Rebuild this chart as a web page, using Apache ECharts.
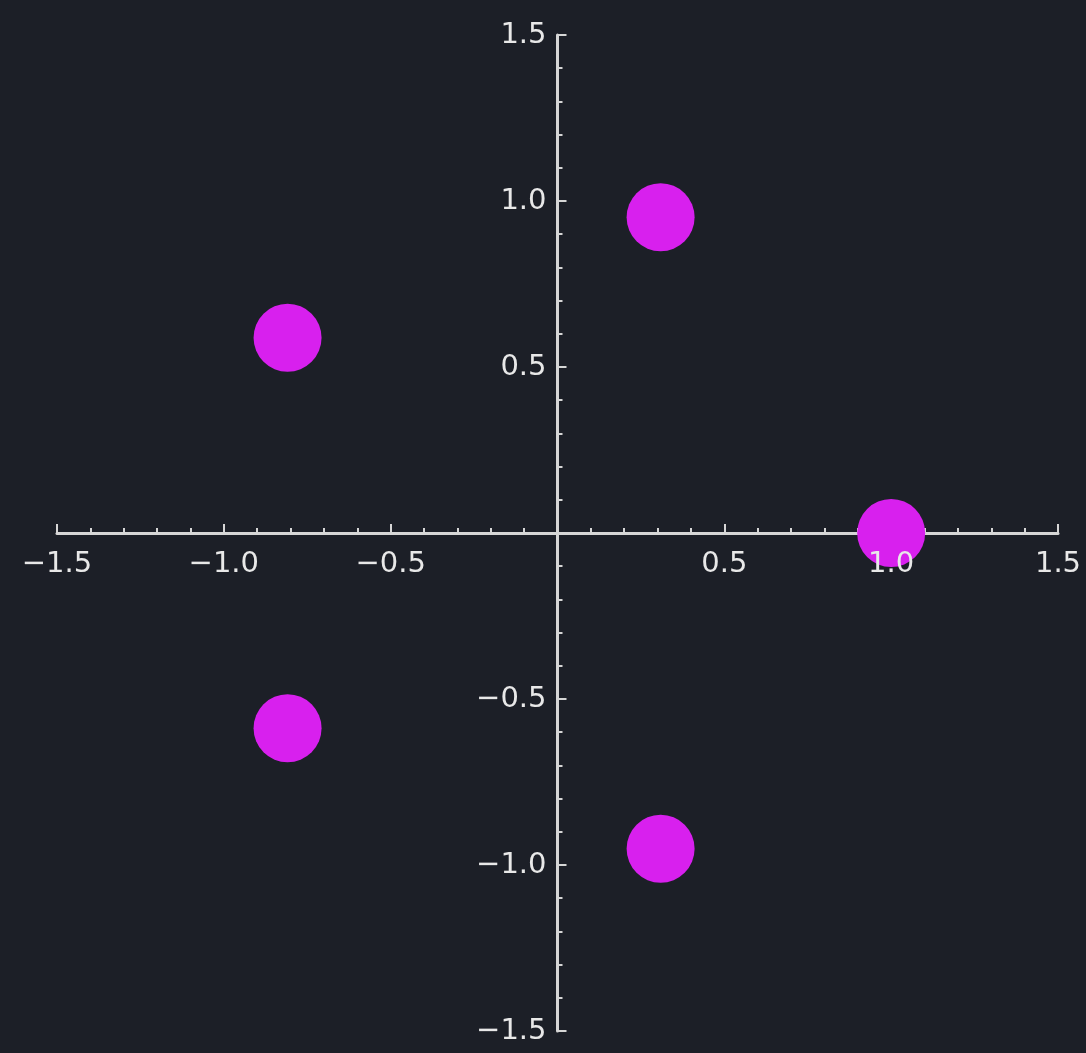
<!DOCTYPE html>
<html><head><meta charset="utf-8">
<script src="https://cdn.jsdelivr.net/npm/echarts@6/dist/echarts.min.js"></script>
<style>html,body{margin:0;padding:0;background:#1c1f27;}#c{width:1086px;height:1053px;}</style>
</head><body><div id="c"></div>
<script>
const xValues = [1.0, 0.309, -0.809, -0.809, 0.309];
const yValues = [0.0, 0.951, 0.588, -0.588, -0.951];
const axisMin = -1.5, axisMax = 1.5, axisStep = 0.5;
const xTickValues = [-1.5, -1.0, -0.5, 0.5, 1.0, 1.5];
const xTickLabels = ['\u22121.5', '\u22121.0', '\u22120.5', '0.5', '1.0', '1.5'];
const yTickValues = [-1.5, -1.0, -0.5, 0.5, 1.0, 1.5];
const yTickLabels = ['\u22121.5', '\u22121.0', '\u22120.5', '0.5', '1.0', '1.5'];

const points = xValues.map((x, i) => [x, yValues[i]]);
const axisColor = '#d6d6d6';
const labelFont = { color: '#e8e8e8', fontFamily: 'DejaVu Sans', fontSize: 29, opacity: 1 };
const axisCommon = {
  type: 'value', min: axisMin, max: axisMax, interval: axisStep,
  axisLine: { show: true, onZero: true, lineStyle: { color: axisColor, width: 3 } },
  axisTick: { show: true, inside: true, length: 9, lineStyle: { color: axisColor, width: 2 } },
  minorTick: { show: true, splitNumber: 5, length: 5, lineStyle: { color: axisColor, width: 2 } },
  splitLine: { show: false },
  axisLabel: { show: false }
};
const chart = echarts.init(document.getElementById('c'), null, { renderer: 'canvas' });
chart.setOption({
  backgroundColor: '#1c1f27',
  animation: false,
  grid: { left: 57, right: 28, top: 35, bottom: 22, containLabel: false, outerBoundsMode: 'none' },
  xAxis: Object.assign({}, axisCommon),
  yAxis: Object.assign({}, axisCommon),
  series: [
    {
      type: 'scatter',
      data: points,
      symbolSize: 68,
      itemStyle: { color: '#d820ee', opacity: 1 },
      z: 3
    },
    {
      type: 'scatter', silent: true, symbolSize: 0, z: 4,
      itemStyle: { opacity: 1 },
      data: xTickValues.map((v, i) => ({ value: [v, 0], name: xTickLabels[i] })),
      label: Object.assign({ show: true, position: 'inside', offset: [0, 31], formatter: p => p.name }, labelFont)
    },
    {
      type: 'scatter', silent: true, symbolSize: 0, z: 4,
      itemStyle: { opacity: 1 },
      data: yTickValues.map((v, i) => ({ value: [0, v], name: yTickLabels[i] })),
      label: Object.assign({ show: true, position: 'left', distance: 11, formatter: p => p.name }, labelFont)
    }
  ]
});
</script></body></html>
